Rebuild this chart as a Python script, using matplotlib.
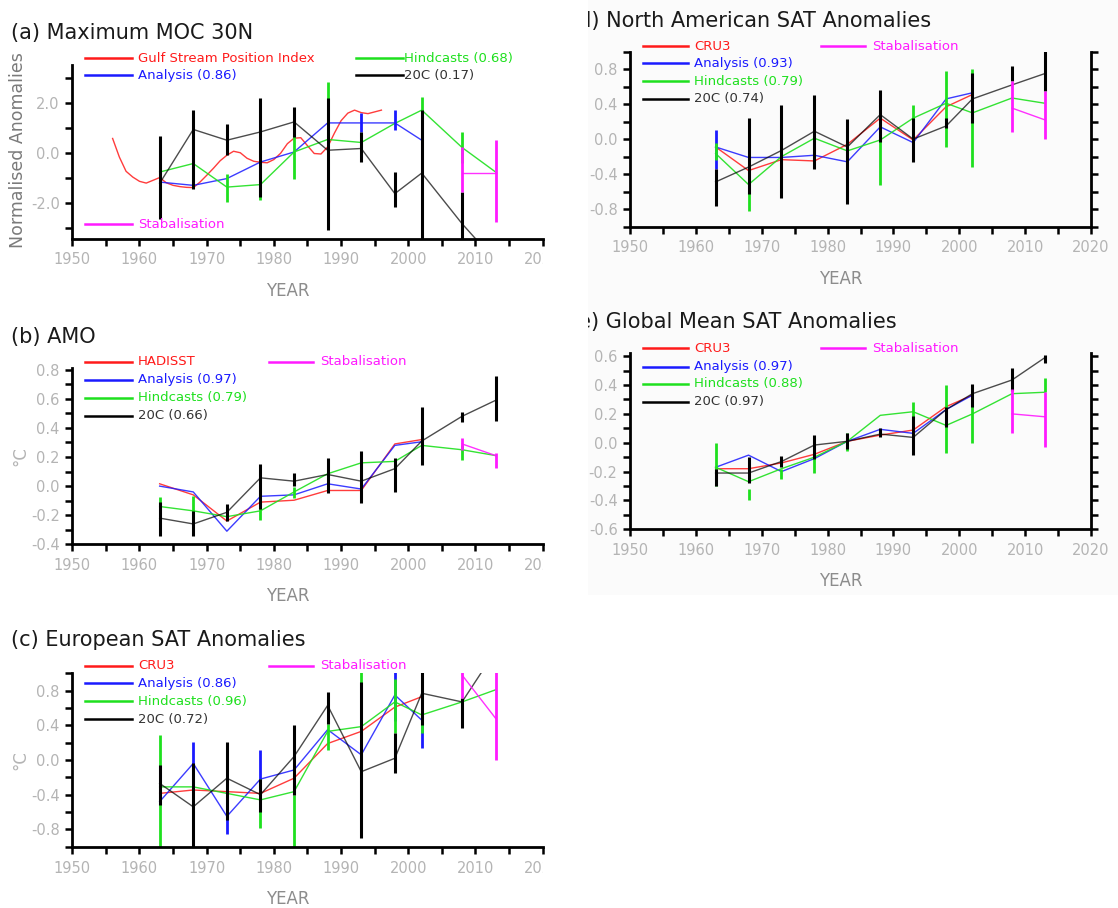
import numpy as np
import matplotlib
matplotlib.use("Agg")
import matplotlib.pyplot as plt
from matplotlib.lines import Line2D
from matplotlib.patches import Rectangle
from matplotlib.transforms import (Bbox, TransformedBbox,
                                   blended_transform_factory, offset_copy)

nan = np.nan

# ── data ─────────────────────────────────────────────────────────────────────
YEARS = [1963, 1968, 1973, 1978, 1983, 1988, 1993, 1998, 2002, 2008, 2013]
OBS_YEARS = YEARS[:9]
STAB_YEARS = YEARS[9:]

# (a) Maximum MOC 30N
GSPI_YEARS = list(range(1956, 1997))
GSPI = [0.59, -0.15, -0.72, -0.95, -1.12, -1.19, -1.08, -0.97, -1.18, -1.28,
        -1.33, -1.36, -1.37, -1.15, -0.88, -0.60, -0.30, -0.08, 0.08, 0.02,
        -0.20, -0.32, -0.36, -0.38, -0.25, 0.00, 0.38, 0.60, 0.62, 0.30,
        -0.01, -0.03, 0.25, 0.80, 1.30, 1.60, 1.72, 1.62, 1.58, 1.65, 1.72]
A_ANA = [-1.15, -1.28, -1.01, -0.35, 0.05, 1.21, 1.21, 1.21, 0.52]
A_ANA_LO = [nan, nan, nan, nan, nan, nan, 0.83, 0.92, nan]
A_ANA_HI = [nan, nan, nan, nan, nan, nan, 1.59, 1.72, nan]
A_HIND = [-0.75, -0.41, -1.35, -1.25, 0.05, 0.55, 0.43, 1.19, 1.72, 0.23, -0.75]
A_HIND_LO = [nan, -0.9, -1.95, -1.85, -1.01, -1.9, nan, nan, 1.2, -0.4, nan]
A_HIND_HI = [nan, 0.1, -0.81, -0.65, 0.79, 2.85, nan, nan, 2.25, 0.85, nan]
A_20C = [-1.2, 0.95, 0.52, 0.85, 1.25, 0.12, 0.19, -1.61, -0.79, -2.81, -4.3]
A_20C_LO = [-2.61, -1.41, -0.08, -1.75, 0.65, -3.07, -0.35, -2.15, -3.6, -4.0, nan]
A_20C_HI = [0.68, 1.72, 1.15, 2.19, 1.83, 2.19, 0.85, -0.75, 1.72, -1.55, nan]
A_STAB = [-0.78, -0.78]
A_STAB_LO = [-1.55, -2.75]
A_STAB_HI = [0.25, 0.52]

# (b) AMO
B_OBS = [0.016, -0.06, -0.24, -0.11, -0.097, -0.03, -0.03, 0.29, 0.32]
B_ANA = [0.0, -0.04, -0.31, -0.07, -0.06, 0.016, -0.02, 0.28, 0.305]
B_HIND = [-0.14, -0.17, -0.21, -0.17, -0.04, 0.085, 0.16, 0.17, 0.28, 0.25, 0.21]
B_HIND_LO = [-0.195, -0.20, nan, -0.23, -0.08, nan, nan, nan, nan, 0.18, nan]
B_HIND_HI = [-0.076, -0.07, nan, -0.115, -0.005, nan, nan, nan, nan, 0.28, nan]
B_20C = [-0.22, -0.26, -0.18, 0.057, 0.034, 0.08, 0.034, 0.12, 0.31, 0.48, 0.59]
B_20C_LO = [-0.345, -0.345, -0.24, -0.16, 0.0, -0.05, -0.115, -0.04, 0.145, 0.44, 0.45]
B_20C_HI = [-0.11, -0.17, -0.126, 0.154, 0.09, 0.19, 0.24, 0.195, 0.545, 0.51, 0.76]
B_STAB = [0.29, 0.21]
B_STAB_LO = [0.25, 0.126]
B_STAB_HI = [0.333, 0.23]

# (c) European SAT
C_OBS = [-0.385, -0.346, -0.365, -0.385, -0.21, 0.19, 0.33, 0.61, 0.73]
C_ANA = [-0.48, -0.04, -0.65, -0.22, -0.115, 0.35, 0.06, 0.75, 0.46]
C_ANA_LO = [nan, -0.3, -0.85, -0.3, nan, nan, nan, 0.45, 0.14]
C_ANA_HI = [nan, 0.21, -0.45, 0.12, nan, nan, nan, 1.1, 0.75]
C_HIND = [-0.31, -0.31, -0.385, -0.46, -0.365, 0.33, 0.385, 0.67, 0.52, 0.67, 0.81]
C_HIND_LO = [-1.1, nan, nan, -0.78, -1.1, 0.115, 0.0, 0.31, 0.31, nan, nan]
C_HIND_HI = [0.29, nan, nan, -0.22, -0.40, 0.42, 1.1, 0.93, 0.75, nan, nan]
C_20C = [-0.27, -0.54, -0.21, -0.40, 0.04, 0.63, -0.135, 0.02, 0.77, 0.67, 1.26]
C_20C_LO = [-0.52, -1.1, -0.69, -0.60, -0.40, 0.42, -0.90, -0.15, 0.40, 0.365, nan]
C_20C_HI = [-0.06, -0.04, 0.21, -0.22, 0.40, 0.79, 0.90, 0.31, 1.1, 0.71, nan]
C_STAB = [0.98, 0.48]
C_STAB_LO = [0.71, 0.0]
C_STAB_HI = [1.1, 1.1]

# (d) North American SAT
D_OBS = [-0.09, -0.36, -0.235, -0.25, -0.06, 0.24, -0.01, 0.37, 0.51]
D_ANA = [-0.09, -0.21, -0.21, -0.185, -0.26, 0.14, -0.04, 0.46, 0.53]
D_ANA_LO = [-0.34, nan, nan, nan, nan, nan, nan, nan, nan]
D_ANA_HI = [0.10, nan, nan, nan, nan, nan, nan, nan, nan]
D_HIND = [-0.165, -0.52, -0.20, 0.01, -0.135, -0.01, 0.24, 0.41, 0.30, 0.47, 0.41]
D_HIND_LO = [-0.24, -0.82, nan, nan, nan, -0.53, 0.0, -0.09, -0.32, nan, nan]
D_HIND_HI = [-0.05, -0.2, nan, nan, nan, 0.3, 0.39, 0.78, 0.80, nan, nan]
D_20C = [-0.49, -0.32, -0.13, 0.09, -0.09, 0.28, 0.0, 0.15, 0.46, 0.62, 0.75]
D_20C_LO = [-0.77, -0.63, -0.67, -0.34, -0.74, -0.03, -0.26, 0.13, 0.18, 0.66, 0.55]
D_20C_HI = [-0.34, 0.24, 0.39, 0.50, 0.23, 0.56, 0.24, 0.24, 0.76, 0.84, 1.01]
D_STAB = [0.355, 0.22]
D_STAB_LO = [0.08, 0.0]
D_STAB_HI = [0.66, 0.55]

# (e) Global mean SAT
E_OBS = [-0.18, -0.18, -0.14, -0.08, 0.01, 0.053, 0.088, 0.25, 0.33]
E_ANA = [-0.17, -0.086, -0.20, -0.11, 0.01, 0.093, 0.065, 0.23, 0.33]
E_HIND = [-0.17, -0.27, -0.18, -0.10, 0.01, 0.19, 0.215, 0.12, 0.20, 0.34, 0.35]
E_HIND_LO = [-0.30, -0.40, -0.25, -0.21, -0.056, nan, 0.18, -0.074, 0.0, nan, 0.35]
E_HIND_HI = [0.0, -0.32, -0.18, -0.08, 0.065, nan, 0.285, 0.40, 0.35, nan, 0.45]
E_20C = [-0.21, -0.21, -0.13, -0.016, 0.01, 0.06, 0.037, 0.23, 0.34, 0.435, 0.59]
E_20C_LO = [-0.30, -0.28, -0.17, -0.11, -0.04, 0.04, -0.086, 0.11, 0.25, 0.36, 0.55]
E_20C_HI = [-0.18, -0.10, -0.09, 0.053, 0.07, 0.10, 0.185, 0.25, 0.41, 0.52, 0.61]
E_STAB = [0.20, 0.18]
E_STAB_LO = [0.065, -0.03]
E_STAB_HI = [0.37, 0.35]

# ── style ────────────────────────────────────────────────────────────────────
RED = "#ff1a1a"
BLUE = "#1a1aff"
GREEN = "#1ee01e"
BLACK = "#000000"
MAGENTA = "#ff1aff"
TICK_GREY = "#b4b4b4"
XTICKS = list(range(1950, 2021, 5))

plt.rcParams["font.family"] = ["DejaVu Sans"]

W, H = 1118, 908
fig = plt.figure(figsize=(W / 100, H / 100), dpi=100)

# faint backdrop of the right-hand column
fig.add_artist(Rectangle((588 / W, 1 - 595 / H), (W - 588) / W, 595 / H,
                         transform=fig.transFigure, facecolor="#fbfbfb",
                         edgecolor="none", zorder=-5))


def tick_labels(ticks, every):
    return [f"{v:.1f}" if i % every == 0 else "" for i, v in enumerate(ticks)]


def make_axes(l, t, r, b, ylim, yticks, ylabels, right_spine=False):
    ax = fig.add_axes([l / W, 1 - b / H, (r - l) / W, (b - t) / H])
    ax.set_facecolor("none")
    ax.set_xlim(1950, 2020)
    ax.set_ylim(*ylim)
    ax.set_xticks(XTICKS)
    ax.set_xticklabels([str(y) if y % 10 == 0 else "" for y in XTICKS])
    ax.set_yticks(yticks)
    ax.set_yticklabels(ylabels)
    ax.spines["top"].set_visible(False)
    ax.spines["right"].set_visible(right_spine)
    for s in ax.spines.values():
        s.set_linewidth(2.0)
    ax.tick_params(direction="out", length=5, width=1.8, color="black",
                   labelcolor=TICK_GREY, labelsize=10.5)
    ax.tick_params(axis="x", pad=5)
    ax.tick_params(axis="y", pad=4, right=right_spine)
    trans = offset_copy(blended_transform_factory(ax.transData, ax.transAxes),
                        fig=fig, y=-52, units="dots")
    ax.text(1982, 0, "YEAR", transform=trans, ha="center", va="center",
            fontsize=12, color="#8c8c8c")
    return ax


def draw_series(ax, obs_x, obs, ana, hind, c20, stab, bars):
    ax.plot(obs_x, obs, color=RED, lw=1.0, alpha=0.85)
    ax.plot(OBS_YEARS, ana, color=BLUE, lw=1.0, alpha=0.85)
    ax.plot(YEARS, hind, color=GREEN, lw=1.0, alpha=0.9)
    ax.plot(YEARS, c20, color=BLACK, lw=1.0, alpha=0.7)
    ax.plot(STAB_YEARS, stab, color=MAGENTA, lw=1.0, alpha=0.9)
    for x, lo, hi, col, lw in bars:
        ax.vlines(x, lo, hi, colors=col, lw=lw)


def legend_entry(x0, x1, y, xt, label, color, text_color=None):
    fy = 1 - y / H
    fig.add_artist(Line2D([x0 / W, x1 / W], [fy, fy], transform=fig.transFigure,
                          color=color, lw=1.8))
    fig.text(xt / W, fy, label, color=text_color or color, fontsize=9.5,
             va="center", ha="left")


def title(x, y, label):
    return fig.text(x / W, 1 - y / H, label, fontsize=15, color="#1a1a1a",
                    va="baseline", ha="left")


# ── (a) Maximum MOC 30N ──────────────────────────────────────────────────────
ax_a = make_axes(72.3, 65, 542.7, 238.5, (-3.4, 3.52), [-3, -2, -1, 0, 1, 2, 3],
                 ["", "-2.0", "", "0.0", "", "2.0", ""])
draw_series(ax_a, GSPI_YEARS, GSPI, A_ANA, A_HIND, A_20C, A_STAB, [
    (OBS_YEARS, A_ANA_LO, A_ANA_HI, BLUE, 2.0),
    (YEARS, A_HIND_LO, A_HIND_HI, GREEN, 2.0),
    (YEARS, A_20C_LO, A_20C_HI, BLACK, 2.2),
    (STAB_YEARS, A_STAB_LO, A_STAB_HI, MAGENTA, 2.0),
])
title(11, 39.5, "(a) Maximum MOC 30N")
fig.text(18 / W, 1 - 150 / H, "Normalised Anomalies", rotation=90, fontsize=12.5,
         color="#7a7a7a", ha="center", va="center")
legend_entry(85, 131.5, 58.3, 138, "Gulf Stream Position Index", RED)
legend_entry(85, 131.5, 75, 138, "Analysis (0.86)", BLUE)
legend_entry(356, 402.6, 58.3, 404.4, "Hindcasts (0.68)", GREEN)
legend_entry(356, 402.6, 75, 404.4, "20C (0.17)", BLACK, "#333333")
legend_entry(85, 131.5, 224, 138, "Stabalisation", MAGENTA)

# ── (b) AMO ──────────────────────────────────────────────────────────────────
b_ticks = [i / 10 for i in range(-4, 9)]
ax_b = make_axes(72.3, 368.3, 542.7, 544.3, (-0.4, 0.81), b_ticks,
                 tick_labels(b_ticks, 2))
draw_series(ax_b, OBS_YEARS, B_OBS, B_ANA, B_HIND, B_20C, B_STAB, [
    (YEARS, B_HIND_LO, B_HIND_HI, GREEN, 2.0),
    (YEARS, B_20C_LO, B_20C_HI, BLACK, 2.2),
    (STAB_YEARS, B_STAB_LO, B_STAB_HI, MAGENTA, 2.0),
])
title(11, 343, "(b) AMO")
fig.text(20 / W, 1 - 456 / H, "°C", rotation=90, fontsize=12, color="#b4b4b4",
         ha="center", va="center")
legend_entry(85, 131.5, 361.7, 138, "HADISST", RED)
legend_entry(85, 131.5, 380, 138, "Analysis (0.97)", BLUE)
legend_entry(85, 131.5, 397.7, 138, "Hindcasts (0.79)", GREEN)
legend_entry(85, 131.5, 415.7, 138, "20C (0.66)", BLACK, "#333333")
legend_entry(268.7, 312.9, 361.7, 320, "Stabalisation", MAGENTA)

# ── (c) European SAT ─────────────────────────────────────────────────────────
c_ticks = [i / 10 for i in range(-10, 11, 2)]
c_labels = ["", "-0.8", "", "-0.4", "", "0.0", "", "0.4", "", "0.8", ""]
ax_c = make_axes(72.3, 673.3, 542.7, 846.7, (-1.0, 1.0), c_ticks, c_labels)
draw_series(ax_c, OBS_YEARS, C_OBS, C_ANA, C_HIND, C_20C, C_STAB, [
    (OBS_YEARS, C_ANA_LO, C_ANA_HI, BLUE, 2.0),
    (YEARS, C_HIND_LO, C_HIND_HI, GREEN, 2.0),
    (YEARS, C_20C_LO, C_20C_HI, BLACK, 2.2),
    (STAB_YEARS, C_STAB_LO, C_STAB_HI, MAGENTA, 2.0),
])
title(11, 646.5, "(c) European SAT Anomalies")
fig.text(20 / W, 1 - 760 / H, "°C", rotation=90, fontsize=12, color="#b4b4b4",
         ha="center", va="center")
legend_entry(85, 131.5, 665.7, 138, "CRU3", RED)
legend_entry(85, 131.5, 683.3, 138, "Analysis (0.86)", BLUE)
legend_entry(85, 131.5, 701, 138, "Hindcasts (0.96)", GREEN)
legend_entry(85, 131.5, 719, 138, "20C (0.72)", BLACK, "#333333")
legend_entry(268.7, 312.9, 665.7, 320, "Stabalisation", MAGENTA)

# ── (d) North American SAT ───────────────────────────────────────────────────
ax_d = make_axes(630, 51.7, 1091, 226.5, (-1.0, 1.0), c_ticks, c_labels,
                 right_spine=True)
draw_series(ax_d, OBS_YEARS, D_OBS, D_ANA, D_HIND, D_20C, D_STAB, [
    (OBS_YEARS, D_ANA_LO, D_ANA_HI, BLUE, 2.0),
    (YEARS, D_HIND_LO, D_HIND_HI, GREEN, 2.0),
    (YEARS, D_20C_LO, D_20C_HI, BLACK, 2.2),
    (STAB_YEARS, D_STAB_LO, D_STAB_HI, MAGENTA, 2.0),
])
t_d = title(569.5, 26.7, "(d) North American SAT Anomalies")
legend_entry(643, 688, 46, 694.5, "CRU3", RED)
legend_entry(643, 688, 63, 694.5, "Analysis (0.93)", BLUE)
legend_entry(643, 688, 81, 694.5, "Hindcasts (0.79)", GREEN)
legend_entry(643, 688, 98.7, 694.5, "20C (0.74)", BLACK, "#333333")
legend_entry(821.3, 865.3, 46, 872, "Stabalisation", MAGENTA)

# ── (e) Global mean SAT ──────────────────────────────────────────────────────
e_ticks = [i / 10 for i in range(-6, 7)]
ax_e = make_axes(630, 353.3, 1091, 529.3, (-0.6, 0.62), e_ticks,
                 tick_labels(e_ticks, 2), right_spine=True)
draw_series(ax_e, OBS_YEARS, E_OBS, E_ANA, E_HIND, E_20C, E_STAB, [
    (YEARS, E_HIND_LO, E_HIND_HI, GREEN, 2.0),
    (YEARS, E_20C_LO, E_20C_HI, BLACK, 2.2),
    (STAB_YEARS, E_STAB_LO, E_STAB_HI, MAGENTA, 2.0),
])
t_e = title(569.5, 328.3, "(e) Global Mean SAT Anomalies")
legend_entry(643, 688, 348, 694.5, "CRU3", RED)
legend_entry(643, 688, 366.5, 694.5, "Analysis (0.97)", BLUE)
legend_entry(643, 688, 383.5, 694.5, "Hindcasts (0.88)", GREEN)
legend_entry(643, 688, 402, 694.5, "20C (0.97)", BLACK, "#333333")
legend_entry(821.3, 865.3, 348, 872, "Stabalisation", MAGENTA)

# ── crop edges as in the original montage ────────────────────────────────────
fig.canvas.draw()
left_clip = TransformedBbox(Bbox.from_extents(0, 0, 543 / W, 1), fig.transFigure)
right_clip = TransformedBbox(Bbox.from_extents(588 / W, 0, 1, 1), fig.transFigure)
for ax in (ax_a, ax_b, ax_c):
    for lbl in ax.get_xticklabels():
        lbl.set_clip_box(left_clip)
        lbl.set_clip_on(True)
for ax in (ax_d, ax_e):
    for lbl in ax.get_yticklabels():
        lbl.set_clip_box(right_clip)
        lbl.set_clip_on(True)
for t in (t_d, t_e):
    t.set_clip_box(right_clip)
    t.set_clip_on(True)

fig.savefig("out.png", dpi=100)
